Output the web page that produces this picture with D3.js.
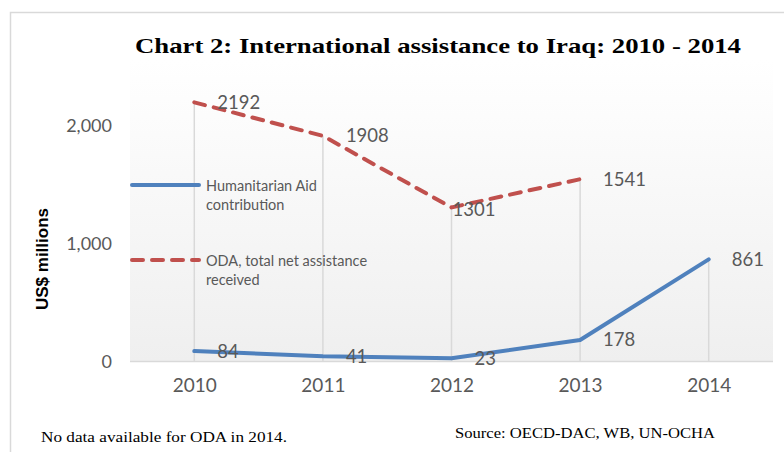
<!DOCTYPE html>
<html><head><meta charset="utf-8">
<script src="https://cdn.jsdelivr.net/npm/d3@7"></script>
<style>body{margin:0;background:#fff;}svg{display:block;}</style>
</head><body>
<svg id="c" width="784" height="452"></svg>
<script>
const years = ["2010","2011","2012","2013","2014"];
const humanitarian = [84, 41, 23, 178, 861];
const oda = [2192, 1908, 1301, 1541, null];
const yTicks = [0, 1000, 2000];
const yTickLabels = ["0", "1,000", "2,000"];
const seriesNames = [["Humanitarian Aid", "contribution"], ["ODA, total net assistance", "received"]];
const title = "Chart 2: International assistance to Iraq: 2010 - 2014";
const yTitle = "US$ millions";
const note = "No data available for ODA in 2014.";
const source = "Source: OECD-DAC, WB, UN-OCHA";

const svg = d3.select("#c");
const blue = "#4F81BD", red = "#C0504D", grey = "#595959";
const sans = "Lato, 'Open Sans', sans-serif";
const serif = "'Liberation Serif', serif";

// frame
svg.append("path").attr("d","M10.5,452 V12.5 H784").attr("fill","none").attr("stroke","#d9d9d9").attr("stroke-width",1.5);

const plot = {x0:130, x1:773, y0:60, y1:361};
const x = d3.scalePoint().domain(years).range([plot.x0, plot.x1]).padding(0.5);
const y = d3.scaleLinear().domain([0, 2500]).range([plot.y1, plot.y1 - 2500*0.118]);

// background gradient
const defs = svg.append("defs");
const g = defs.append("linearGradient").attr("id","bg").attr("x1",0).attr("y1",0).attr("x2",0).attr("y2",1);
g.append("stop").attr("offset","0%").attr("stop-color","#ffffff");
g.append("stop").attr("offset","100%").attr("stop-color","#efefef");
svg.append("rect").attr("x",plot.x0).attr("y",plot.y0).attr("width",plot.x1-plot.x0).attr("height",plot.y1-plot.y0).attr("fill","url(#bg)");

// title
svg.append("text").attr("x",438).attr("y",53).attr("text-anchor","middle")
  .attr("font-family",serif).attr("font-weight","bold").attr("font-size",22)
  .attr("textLength",606).attr("lengthAdjust","spacingAndGlyphs").attr("fill","#000").text(title);

// drop lines
years.forEach((yr,i)=>{
  const top = d3.max([humanitarian[i], oda[i]].filter(v=>v!=null));
  svg.append("line").attr("x1",x(yr)).attr("x2",x(yr)).attr("y1",y(top)).attr("y2",y(0))
    .attr("stroke","#d9d9d9").attr("stroke-width",1.5);
});
// baseline
svg.append("line").attr("x1",plot.x0).attr("x2",plot.x1).attr("y1",y(0)+0.5).attr("y2",y(0)+0.5)
  .attr("stroke","#d9d9d9").attr("stroke-width",1.5);

// y axis labels
const yAxis = d3.axisLeft(y).tickValues(yTicks).tickFormat((d,i)=>yTickLabels[i]).tickSize(0).tickPadding(0);
const ya = svg.append("g").attr("transform","translate(112,0)").call(yAxis);
ya.select(".domain").remove();
ya.selectAll("text").attr("font-family",sans).attr("font-size",18).attr("fill",grey).attr("dy","0.35em");

// x axis labels
const xAxis = d3.axisBottom(x).tickSize(0).tickPadding(0);
const xa = svg.append("g").attr("transform","translate(0,378)").call(xAxis);
xa.select(".domain").remove();
xa.selectAll("text").attr("font-family",sans).attr("font-size",19).attr("fill",grey).attr("dy","0.71em");

// y title
svg.append("text").attr("transform","translate(48,259) rotate(-90)").attr("text-anchor","middle")
  .attr("font-family","'Liberation Sans', Arial, sans-serif").attr("font-weight","bold").attr("font-size",17)
  .attr("fill","#000").text(yTitle);

// lines
const line = d3.line().defined(d=>d[1]!=null).x(d=>x(d[0])).y(d=>y(d[1]));
svg.append("path").datum(years.map((yr,i)=>[yr, humanitarian[i]])).attr("d",line)
  .attr("fill","none").attr("stroke",blue).attr("stroke-width",4).attr("stroke-linecap","round").attr("stroke-linejoin","round");
svg.append("path").datum(years.map((yr,i)=>[yr, oda[i]])).attr("d",line)
  .attr("fill","none").attr("stroke",red).attr("stroke-width",4).attr("stroke-dasharray","11,9").attr("stroke-linecap","round");

// data labels
function labels(vals){
  years.forEach((yr,i)=>{
    const v = vals[i]; if (v==null) return;
    const special = (vals===oda && i===2);
    svg.append("text").attr("x", x(yr) + (special?1:23)).attr("y", y(v) + (special?2:0)).attr("dy","0.35em")
      .attr("font-family",sans).attr("font-size",18.5).attr("fill",grey).text(v);
  });
}
labels(oda);
labels(humanitarian);

// legend
const leg = [{c:blue, dash:null, y:185}, {c:red, dash:"11,9", y:260}];
leg.forEach((l,i)=>{
  svg.append("line").attr("x1",132).attr("x2",199).attr("y1",l.y).attr("y2",l.y)
    .attr("stroke",l.c).attr("stroke-width",4).attr("stroke-linecap","round")
    .attr("stroke-dasharray",l.dash);
  seriesNames[i].forEach((t,j)=>{
    svg.append("text").attr("x",206).attr("y",l.y+1+j*19).attr("dy","0.35em")
      .attr("font-family",sans).attr("font-size",14.5).attr("fill",grey).text(t);
  });
});

// footnotes
svg.append("text").attr("x",41).attr("y",442).attr("font-family",serif).attr("font-size",15)
  .attr("textLength",246).attr("lengthAdjust","spacingAndGlyphs").attr("fill","#000").text(note);
svg.append("text").attr("x",455).attr("y",438).attr("font-family",serif).attr("font-size",15)
  .attr("textLength",260).attr("lengthAdjust","spacingAndGlyphs").attr("fill","#000").text(source);
</script>
</body></html>
